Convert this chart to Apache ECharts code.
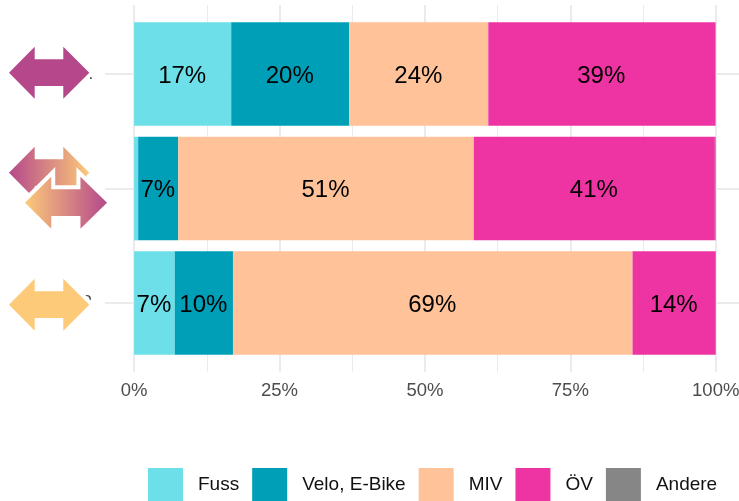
<!DOCTYPE html>
<html lang="de">
<head>
    <meta charset="UTF-8">
    <title>Modal Split</title>
    <style>
        html, body {margin: 0; padding: 0; background: #fff;}
        #chart {width: 739px; height: 501px;}
    </style>
</head>
<body>
<div id="chart"></div>
<script src="https://cdn.jsdelivr.net/npm/echarts@6/dist/echarts.min.js"></script>
<script type="text/javascript">
    // row names are almost fully hidden under the arrows, only the ends show
    var categories = ['A', '', '2'];
    var names = ['Fuss', 'Velo, E-Bike', 'MIV', 'ÖV', 'Andere'];
    var fuss = [16.7, 0.7, 7.0];
    var velo = [20.3, 6.9, 10.0];
    var miv = [23.9, 50.8, 68.7];
    var oev = [39.0, 41.45, 14.3];
    var andere = [0.1, 0.15, 0];
    var colors = ['#6CDFE8', '#009FB8', '#FFC299', '#EE33A3', '#868686'];
    var majorTicks = [0, 25, 50, 75, 100];
    var minorTicks = [12.5, 37.5, 62.5, 87.5];
    var rowTicks = [1, 2, 3];

    var fontName = '"Liberation Sans", Arial, sans-serif';

    function makeSeries(name, data, color) {
        return {
            name: name,
            type: 'bar',
            stack: 'all',
            xAxisIndex: 2,
            yAxisIndex: 1,
            barWidth: '90.5%',
            data: data,
            itemStyle: {color: color},
            label: {
                show: true,
                position: 'inside',
                offset: [-0.5, 2],
                color: '#000',
                fontFamily: fontName,
                fontSize: 24,
                formatter: function (p) {
                    return p.value < 5 ? '' : Math.round(p.value) + '%';
                }
            }
        };
    }

    // arrow outline, dx/dy move it to its place left of the rows
    function arrow(dx, dy, sx) {
        var pts = [[9, 72.7], [34.7, 46.7], [34.7, 59.3], [63.3, 59.3], [63.3, 46.7], [89.3, 72.7],
            [63.3, 98.7], [63.3, 86], [34.7, 86], [34.7, 98.7]];
        return pts.map(function (p) {
            return [9 + (p[0] - 9) * sx + dx, p[1] + dy];
        });
    }

    // white halo first, then the filled arrow on top
    function arrowShapes(dx, dy, sx, fill) {
        return [{
            type: 'polygon',
            z: 100,
            shape: {points: arrow(dx, dy, sx)},
            style: {fill: '#fff', stroke: '#fff', lineWidth: 8, lineJoin: 'miter'}
        }, {
            type: 'polygon',
            z: 100,
            shape: {points: arrow(dx, dy, sx)},
            style: {fill: fill}
        }];
    }

    function fade(from, to) {
        return new echarts.graphic.LinearGradient(0, 0, 1, 0, [
            {offset: 0, color: from},
            {offset: 1, color: to}
        ]);
    }

    var purple = '#B5488B', yellow = '#FCCA79';
    var gridLine = '#EBEBEB';

    var option = {
        animation: false,
        backgroundColor: '#fff',
        textStyle: {fontFamily: fontName},
        grid: [
            {left: 105, width: 634, top: 5, height: 367, outerBoundsMode: 'none'},
            {left: 105, width: 634, top: 16.8, height: 343.5, outerBoundsMode: 'none'}
        ],
        xAxis: [
            {
                type: 'value', gridIndex: 0, min: -5, max: 104,
                axisLine: {show: false},
                axisTick: {show: false, customValues: majorTicks},
                axisLabel: {
                    customValues: majorTicks,
                    color: '#4D4D4D',
                    fontSize: 18.5,
                    margin: 9,
                    formatter: '{value}%'
                },
                splitLine: {show: true, lineStyle: {color: gridLine, width: 2}}
            },
            {
                type: 'value', gridIndex: 0, min: -5, max: 104,
                axisLine: {show: false},
                axisTick: {show: false, customValues: minorTicks},
                axisLabel: {show: false},
                splitLine: {show: true, lineStyle: {color: gridLine, width: 1}}
            },
            {
                type: 'value', gridIndex: 1, min: -5, max: 104,
                axisLine: {show: false},
                axisTick: {show: false},
                axisLabel: {show: false},
                splitLine: {show: false}
            }
        ],
        yAxis: [
            {
                type: 'value', gridIndex: 0, min: 0.4, max: 3.6, inverse: true,
                axisLine: {show: false},
                axisTick: {show: false, customValues: rowTicks},
                axisLabel: {show: false},
                splitLine: {show: true, lineStyle: {color: gridLine, width: 2}}
            },
            {
                type: 'category', gridIndex: 1, inverse: true,
                data: categories,
                axisLine: {show: false},
                axisTick: {show: false},
                axisLabel: {color: '#4D4D4D', fontSize: 18, margin: 13},
                splitLine: {show: false}
            }
        ],
        legend: {
            left: 143,
            top: 463,
            icon: 'rect',
            itemWidth: 35,
            itemHeight: 33,
            itemGap: 13,
            data: names,
            textStyle: {color: '#111', fontSize: 19, padding: [2, 0, 0, 10]}
        },
        series: [
            makeSeries(names[0], fuss, colors[0]),
            makeSeries(names[1], velo, colors[1]),
            makeSeries(names[2], miv, colors[2]),
            makeSeries(names[3], oev, colors[3]),
            makeSeries(names[4], andere, colors[4])
        ],
        graphic: [].concat(
            arrowShapes(0, 0, 1, purple),
            arrowShapes(0, 100, 1, fade(purple, yellow)),
            arrowShapes(16, 130, 1.021, fade(yellow, purple)),
            arrowShapes(0, 232, 1, yellow)
        )
    };

    var myChart = echarts.init(document.getElementById('chart'), null, {renderer: 'canvas'});
    myChart.setOption(option);
</script>
</body>
</html>
